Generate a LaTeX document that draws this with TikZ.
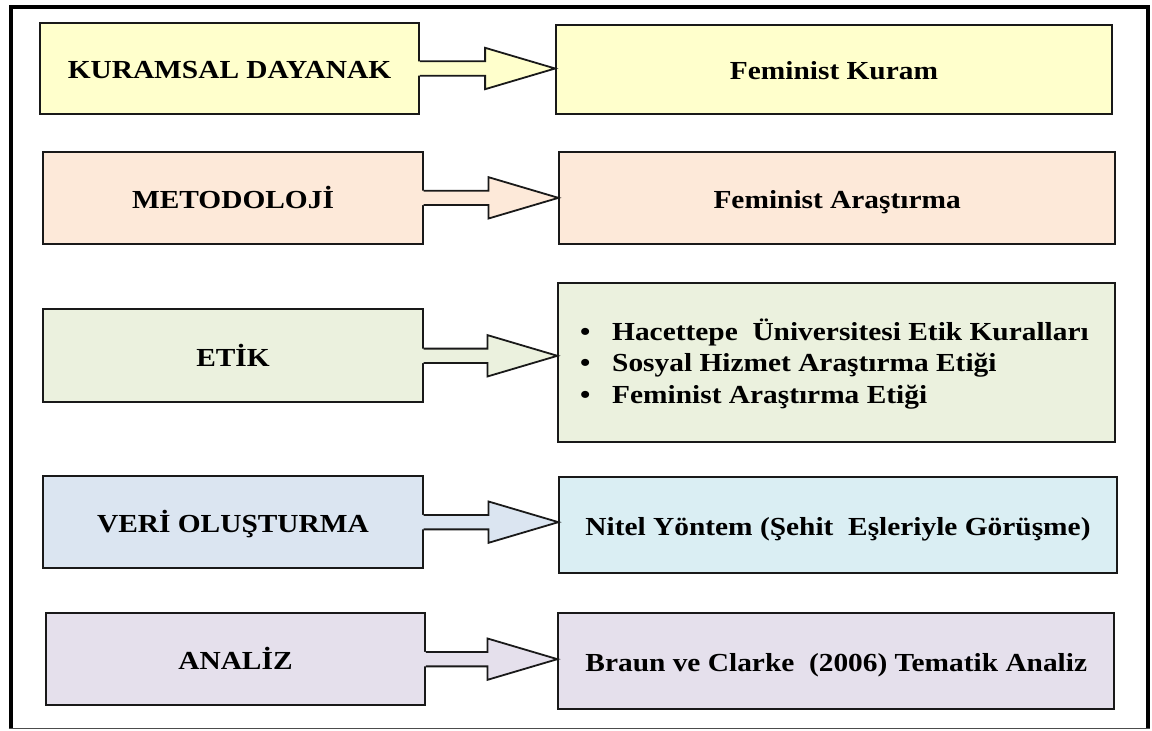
\documentclass[tikz,border=0pt]{standalone}
\usepackage{fontspec}
\setmainfont{Liberation Serif}[FakeStretch=1.13]
\usetikzlibrary{calc}

\definecolor{yel}{HTML}{FFFFCC}
\definecolor{peach}{HTML}{FDE9D9}
\definecolor{olive}{HTML}{EBF1DE}
\definecolor{lblue}{HTML}{DBE5F1}
\definecolor{aqua}{HTML}{DAEEF3}
\definecolor{lilac}{HTML}{E5E0EC}

\tikzset{
  box/.style={draw=black!90, line width=1.8pt, inner sep=0pt,
    text height=20.5pt, text depth=0pt,
    font=\fontsize{26}{31.5}\selectfont\bfseries, text=black},
  arrowline/.style={draw=black!90, line width=1.8pt, line join=miter},
  frameline/.style={draw=black, line width=4pt},
}

% block arrow from the right side of one box to the left side of another
\newcommand{\blockarrow}[3]{%
  \fill[#3] let \p1=(#1.east), \p2=(#2.west) in
    (\x1-2pt,\y1+7.2pt) -- (\x2-70pt,\y1+7.2pt) -- (\x2-70pt,\y1+20.7pt)
    -- (\x2,\y1) -- (\x2-70pt,\y1-20.7pt) -- (\x2-70pt,\y1-7.2pt)
    -- (\x1-2pt,\y1-7.2pt) -- cycle;
  \draw[arrowline] let \p1=(#1.east), \p2=(#2.west) in
    (\x1,\y1+7.2pt) -- (\x2-70pt,\y1+7.2pt) -- (\x2-70pt,\y1+20.7pt)
    -- (\x2,\y1) -- (\x2-70pt,\y1-20.7pt) -- (\x2-70pt,\y1-7.2pt)
    -- (\x1,\y1-7.2pt);
}

\begin{document}
\begin{tikzpicture}[x=1pt, y=-1pt]
\useasboundingbox (0,0) rectangle (1152,731);
\fill[white] (0,0) rectangle (1152,731);

% outer frame
\draw[frameline] (10.5,728.3) -- (10.5,6.5) -- (1147.5,6.5) -- (1147.5,728.3);
\draw[draw=black!70, line width=1.5pt] (8.5,728.3) -- (1149.5,728.3);

% row 1
\node[box, fill=yel, minimum width=379pt, minimum height=91.6pt] (k1) at (229.5,68.5) {KURAMSAL DAYANAK};
\node[box, fill=yel, minimum width=556pt, minimum height=89.3pt] (f1) at (834,69.65) {Feminist Kuram};

% row 2
\node[box, fill=peach, minimum width=379.4pt, minimum height=92.3pt] (k2) at (233,197.85) {METODOLOJİ};
\node[box, fill=peach, minimum width=555.7pt, minimum height=92.3pt] (f2) at (837.15,197.85) {Feminist Araştırma};

% row 3
\node[box, fill=olive, minimum width=379.4pt, minimum height=93pt] (k3) at (233,355.8) {ETİK};
\node[box, fill=olive, minimum width=556.7pt, minimum height=158.7pt] (f3) at (836.65,362.35) {};
\node[anchor=west, inner sep=0pt, align=left, text=black,
  font=\fontsize{26}{31.5}\selectfont\bfseries] (etik) at (580,364)
  {\makebox[32pt][l]{•}Hacettepe\ \ Üniversitesi Etik Kuralları\\
   \makebox[32pt][l]{•}Sosyal Hizmet Araştırma Etiği\\
   \makebox[32pt][l]{•}Feminist Araştırma Etiği};

% row 4
\node[box, fill=lblue, minimum width=379.4pt, minimum height=92.3pt] (k4) at (233,522.15) {VERİ OLUŞTURMA};
\node[box, fill=aqua, minimum width=557.4pt, minimum height=96.6pt] (f4) at (838,525) {Nitel Yöntem (Şehit\ \ Eşleriyle Görüşme)};

% row 5
\node[box, fill=lilac, minimum width=379pt, minimum height=91.7pt] (k5) at (235.5,659.15) {ANALİZ};
\node[box, fill=lilac, minimum width=556pt, minimum height=95.7pt] (f5) at (836.3,661.15) {Braun ve Clarke\ \ (2006) Tematik Analiz};

% connectors
\blockarrow{k1}{f1}{yel}
\blockarrow{k2}{f2}{peach}
\blockarrow{k3}{f3}{olive}
\blockarrow{k4}{f4}{lblue}
\blockarrow{k5}{f5}{lilac}
\end{tikzpicture}
\end{document}
